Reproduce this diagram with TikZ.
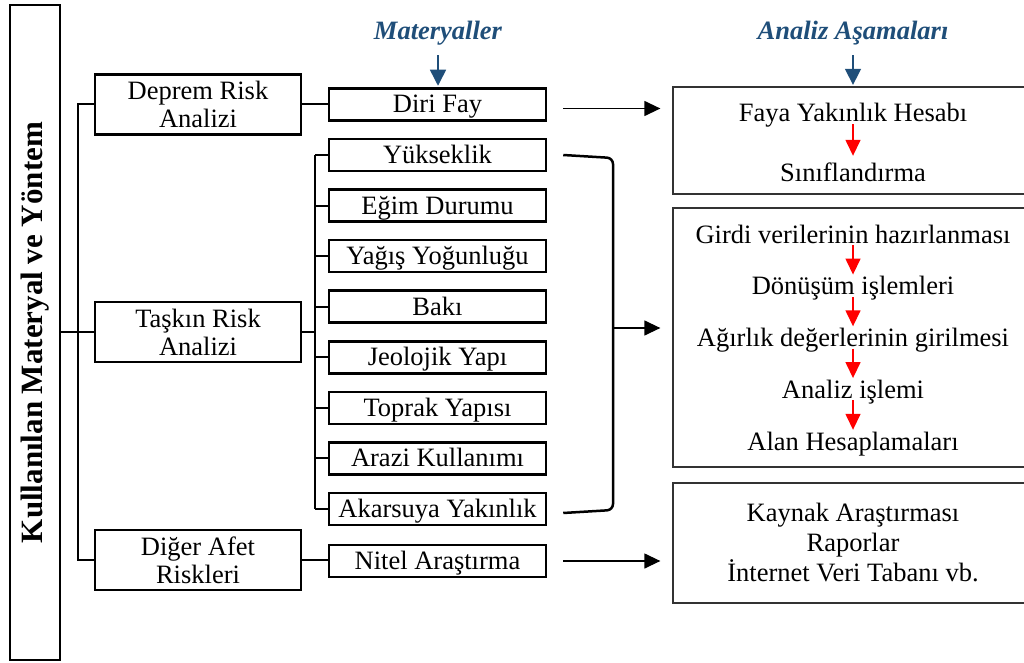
\documentclass[tikz,border=0pt]{standalone}
\usepackage{fontspec}
\setmainfont{Liberation Serif}
\usetikzlibrary{arrows.meta}

\definecolor{headblue}{RGB}{31,78,121}
\newcommand{\fs}{\fontsize{26.5}{28}\selectfont}

\begin{document}
\begin{tikzpicture}[
                x=1pt, y=-1pt, % one unit = one pixel of the layout, y downwards
                every node/.style={font=\fs},
                block/.style={rectangle, draw, line width=2.5pt, minimum width=206pt, minimum height=60pt, align=center, inner sep=0pt},
                uc_block/.style={rectangle, draw, line width=2.5pt, minimum width=217pt, minimum height=32pt, text height=17pt, text depth=0pt, inner sep=0pt},
                stage/.style={rectangle, draw=black!80, line width=1.3pt, minimum width=360pt},
                stage_txt/.style={inner sep=0pt, text height=20pt, text depth=2pt, anchor=base},
                head/.style={font=\fs\bfseries\itshape, text=headblue, inner sep=0pt, text depth=6pt, anchor=base},
                line/.style={draw, line width=2pt},
                arrow/.style={draw, line width=1.3pt, -{Triangle[length=16pt,width=15pt]}},
                down/.style={draw=headblue, line width=1.5pt, -{Triangle[length=16pt,width=16pt]}},
                red_arrow/.style={draw=red, line width=1.5pt, -{Triangle[length=16pt,width=15pt]}}
            ]
                \useasboundingbox (0,0) rectangle (1024,663);
                \clip (0,0) rectangle (1024,663);

                % Place nodes
                \node [draw, line width=2.5pt, minimum width=50pt, minimum height=655pt, inner sep=0pt] (K_title) at (35,332.5)
                    {\rotatebox{90}{\fontsize{31}{31}\selectfont\bfseries Kullanılan Materyal ve Yöntem}};

                \node [block] (D_risk) at (198,104.5) {Deprem Risk\\Analizi};
                \node [block] (T_risk) at (198,332) {Taşkın Risk\\Analizi};
                \node [block] (O_risk) at (198,560) {Diğer Afet\\Riskleri};

                \node [uc_block] (M_fay) at (437.5,104.5) {Diri Fay};
                \foreach \lbl [count=\i] in {Yükseklik, Eğim Durumu, Yağış Yoğunluğu, Bakı, Jeolojik Yapı, Toprak Yapısı, Arazi Kullanımı, Akarsuya Yakınlık}
                    \node [uc_block] (M_\i) at (437.5,{155+50.57*(\i-1)}) {\lbl};
                \node [uc_block] (M_nit) at (437.5,561) {Nitel Araştırma};

                \node [head] (H_mat) at (438,40) {Materyaller};
                \node [head] (H_ana) at (853,40) {Analiz Aşamaları};

                \node [stage, minimum height=107pt] (A_fay) at (853,140.5) {};
                \node [stage, minimum height=259pt] (A_taskin) at (853,337.5) {};
                \node [stage, minimum height=120pt, align=center, font=\fontsize{26.5}{30}\selectfont] (A_diger) at (853,543)
                    {Kaynak Araştırması\\Raporlar\\İnternet Veri Tabanı vb.};

                \node [stage_txt] (A_f1) at (853,122) {Faya Yakınlık Hesabı};
                \node [stage_txt] (A_f2) at (853,182) {Sınıflandırma};
                \foreach \lbl [count=\i] in {Girdi verilerinin hazırlanması, Dönüşüm işlemleri, Ağırlık değerlerinin girilmesi, Analiz işlemi, Alan Hesaplamaları}
                    \node [stage_txt] (A_t\i) at (853,{243+51.75*(\i-1)}) {\lbl};

                % Draw edges
                \coordinate (trunk) at (78,0);
                \coordinate (bus) at (315,0);
                \path [line] (K_title.east |- T_risk.west) -- (T_risk.west);
                \path [line] (D_risk.west) -- (D_risk.west -| trunk) -- (O_risk.west -| trunk) -- (O_risk.west);
                \path [line] (D_risk.east) -- (M_fay.west);
                \path [line] (O_risk.east) -- (O_risk.east -| M_nit.west);
                \path [line] (T_risk.east) -- (T_risk.east -| bus);
                \path [line] (M_1.west -| bus) -- (M_8.west -| bus);
                \foreach \i in {1,...,8}
                    \path [line] (M_\i.west -| bus) -- (M_\i.west);

                % bracket round the flood inputs
                \coordinate (brace) at (613,0);
                \coordinate (br_top) at ([xshift=16pt]M_1.east);
                \coordinate (br_bot) at ([xshift=16pt,yshift=-4pt]M_8.east);
                \coordinate (br_mid) at (613,328);
                \path [line, line width=2.5pt, rounded corners=6pt] (br_top) -- ([yshift=-3pt]br_top -| brace) -- ([yshift=3pt]br_bot -| brace) -- (br_bot);

                \path [arrow, shorten >=12pt] (br_mid) -- (br_mid -| A_taskin.west);
                \path [arrow, shorten <=16pt, shorten >=12pt] ([yshift=-4pt]M_fay.east) -- ([yshift=-4pt]M_fay.east -| A_fay.west);
                \path [arrow, shorten <=16pt, shorten >=12pt] (M_nit.east) -- (M_nit.east -| A_diger.west);

                \path [down, shorten <=9pt, shorten >=1.5pt] (H_mat.south) -- (H_mat.south |- M_fay.north);
                \path [down, shorten <=9pt, shorten >=1.5pt] (H_ana.south) -- (A_fay.north);

                \path [red_arrow, shorten >=6pt] (A_f1.south) -- (A_f2.north);
                \foreach \i/\j in {1/2, 2/3, 3/4, 4/5}
                    \path [red_arrow] (A_t\i.south) -- (A_t\j.north);

            \end{tikzpicture}
\end{document}
